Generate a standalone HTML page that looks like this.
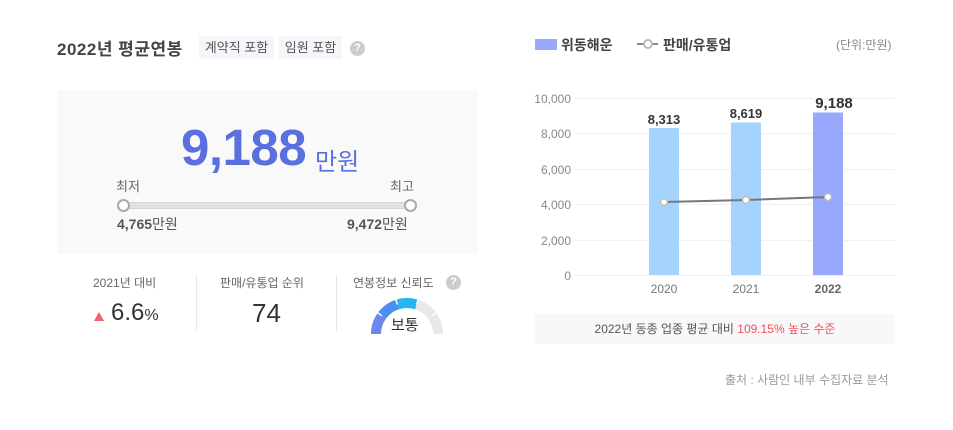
<!DOCTYPE html>
<html><head><meta charset="utf-8"><style>
body{margin:0;width:953px;height:430px;background:#fff;font-family:"Liberation Sans","Noto Sans CJK KR",sans-serif;position:relative;overflow:hidden;color:#333}
.a{position:absolute;white-space:nowrap}
</style></head><body>
<div class="a" style="left:57px;top:35px;font-size:17px;font-weight:bold;color:#444;letter-spacing:0.5px">2022년 평균연봉</div>
<div class="a" style="left:199px;top:36px;width:75px;height:23px;background:#f4f6fa;font-size:13px;color:#555;line-height:23px;text-align:center">계약직 포함</div>
<div class="a" style="left:279px;top:36px;width:63px;height:23px;background:#f4f6fa;font-size:13px;color:#555;line-height:23px;text-align:center">임원 포함</div>
<div class="a" style="left:350px;top:41px;width:15px;height:15px;border-radius:50%;background:#ccc;color:#fff;font-size:11px;font-weight:bold;text-align:center;line-height:15px">?</div>

<div class="a" style="left:57px;top:90px;width:420px;height:164px;background:#f9f9f9"></div>
<div class="a" style="left:181px;top:118px;font-size:51px;font-weight:bold;color:#5a6fe0;letter-spacing:-0.5px">9,188</div>
<div class="a" style="left:315px;top:142px;font-size:24px;color:#5a6fe0">만원</div>
<div class="a" style="left:116px;top:176px;font-size:13px;color:#666">최저</div>
<div class="a" style="left:390px;top:176px;font-size:13px;color:#666">최고</div>
<div class="a" style="left:122px;top:202px;width:288px;height:5px;background:#e2e2e2;border:1px solid #d6d6d6"></div>
<div class="a" style="left:117px;top:199px;width:9px;height:9px;border:2px solid #aaa;border-radius:50%;background:#fff"></div>
<div class="a" style="left:404px;top:199px;width:9px;height:9px;border:2px solid #aaa;border-radius:50%;background:#fff"></div>
<div class="a" style="left:117px;top:214px;font-size:14px;color:#555"><b>4,765</b>만원</div>
<div class="a" style="left:347px;top:214px;font-size:14px;color:#555"><b>9,472</b>만원</div>

<div class="a" style="left:93px;top:274px;font-size:12px;color:#666">2021년 대비</div>
<div class="a" style="left:94px;top:312px;width:0;height:0;border-left:5px solid transparent;border-right:5px solid transparent;border-bottom:9px solid #f0616c"></div>
<div class="a" style="left:111px;top:299px;font-size:24px;color:#333">6.6<span style="font-size:16px">%</span></div>
<div class="a" style="left:196px;top:275px;width:1px;height:56px;background:#e6e6e6"></div>
<div class="a" style="left:220px;top:274px;font-size:12px;color:#666">판매/유통업 순위</div>
<div class="a" style="left:252px;top:298px;font-size:26px;color:#333">74</div>
<div class="a" style="left:336px;top:275px;width:1px;height:56px;background:#e6e6e6"></div>
<div class="a" style="left:353px;top:274px;font-size:12px;color:#666">연봉정보 신뢰도</div>
<div class="a" style="left:446px;top:275px;width:15px;height:15px;border-radius:50%;background:#ccc;color:#fff;font-size:11px;font-weight:bold;text-align:center;line-height:15px">?</div>
<svg class="a" style="left:360px;top:290px" width="100" height="50">
<g fill="none" stroke-width="10">
<path d="M16 44 A31 31 0 0 1 78 44" stroke="#e8e8e8"/>
<path d="M16 44 A31 31 0 0 1 21.9 25.8" stroke="#6d86f0"/>
<path d="M21.9 25.8 A31 31 0 0 1 37.4 14.5" stroke="#4d8ff0"/>
<path d="M37.4 14.5 A31 31 0 0 1 56.6 14.5" stroke="#26b5ee"/>
</g>
<g stroke="#fff" stroke-width="1.5"><line x1="21.9" y1="25.8" x2="13.8" y2="19.9"/><line x1="37.4" y1="14.5" x2="34.3" y2="5"/><line x1="56.6" y1="14.5" x2="59.7" y2="5"/><line x1="72.1" y1="25.8" x2="80.2" y2="19.9"/></g>
</svg>
<div class="a" style="left:391px;top:314px;font-size:15px;color:#333">보통</div>

<div class="a" style="left:535px;top:39px;width:22px;height:11px;background:#97a8fd"></div>
<div class="a" style="left:561px;top:35px;font-size:14px;font-weight:bold;color:#444">위동해운</div>
<svg class="a" style="left:636px;top:38px" width="24" height="12"><line x1="1" y1="6" x2="22" y2="6" stroke="#888" stroke-width="2"/><circle cx="12" cy="6" r="4" fill="#fff" stroke="#bbb" stroke-width="2"/></svg>
<div class="a" style="left:663px;top:35px;font-size:14px;font-weight:bold;color:#444">판매/유통업</div>
<div class="a" style="left:836px;top:36px;font-size:12px;color:#888">(단위:만원)</div>

<svg class="a" style="left:0;top:0" width="953" height="430">
<g stroke="#f0f0f0" stroke-width="1">
<line x1="575" y1="98.5" x2="895" y2="98.5"/><line x1="575" y1="133.5" x2="895" y2="133.5"/><line x1="575" y1="169.5" x2="895" y2="169.5"/><line x1="575" y1="204.5" x2="895" y2="204.5"/><line x1="575" y1="240.5" x2="895" y2="240.5"/><line x1="575" y1="275.5" x2="895" y2="275.5"/>
</g>
<g font-size="12" fill="#888" text-anchor="end" font-family="Liberation Sans, sans-serif">
<text x="571" y="103">10,000</text><text x="571" y="138">8,000</text><text x="571" y="174">6,000</text><text x="571" y="209">4,000</text><text x="571" y="245">2,000</text><text x="571" y="280">0</text>
</g>
<rect x="649" y="128" width="30" height="147" fill="#a4d4fd"/>
<rect x="731" y="122.5" width="30" height="152.5" fill="#a4d4fd"/>
<rect x="813" y="112.5" width="30" height="162.5" fill="#97a8fd"/>
<g font-size="13" font-weight="bold" fill="#333" text-anchor="middle" font-family="Liberation Sans, sans-serif">
<text x="664" y="124">8,313</text><text x="746" y="118">8,619</text><text x="834" y="108" font-size="15">9,188</text>
</g>
<polyline points="664,202 746,200 828,197" fill="none" stroke="#777" stroke-width="2"/>
<g fill="#fff" stroke="#bbb" stroke-width="1.5"><circle cx="664" cy="202" r="3.5"/><circle cx="746" cy="200" r="3.5"/><circle cx="828" cy="197" r="3.5"/></g>
<g font-size="12" fill="#777" text-anchor="middle" font-family="Liberation Sans, sans-serif">
<text x="664" y="293">2020</text><text x="746" y="293">2021</text><text x="828" y="293" font-weight="bold" fill="#666">2022</text>
</g>
</svg>
<div class="a" style="left:535px;top:314px;width:360px;height:30px;background:#f8f8f8;font-size:12px;color:#555;text-align:center;line-height:30px">2022년 동종 업종 평균 대비 <span style="color:#f0525e">109.15% 높은 수준</span></div>
<div class="a" style="left:725px;top:371px;font-size:12px;color:#999">출처 : 사람인 내부 수집자료 분석</div>
</body></html>
